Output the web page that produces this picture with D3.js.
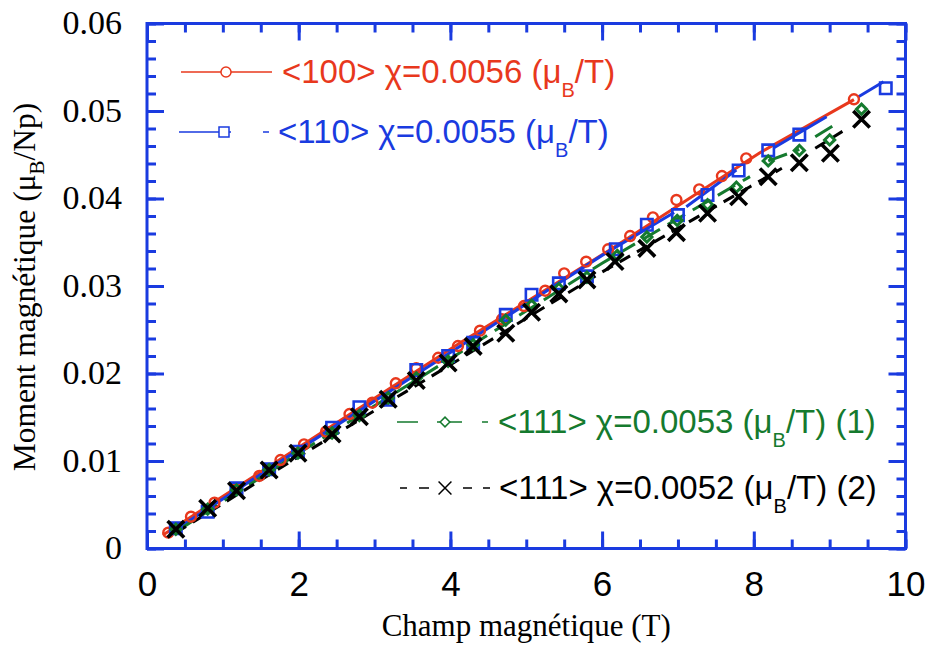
<!DOCTYPE html>
<html><head><meta charset="utf-8">
<script src="https://cdn.jsdelivr.net/npm/d3@7"></script>
<style>body{margin:0;background:#fff}svg{display:block}</style>
</head><body>
<svg id="c" width="927" height="646"></svg>
<script>
// ---------- data ----------
const xTickValues = [0, 2, 4, 6, 8, 10];
const xTickLabels = ["0", "2", "4", "6", "8", "10"];
const yTickValues = [0, 0.01, 0.02, 0.03, 0.04, 0.05, 0.06];
const yTickLabels = ["0", "0.01", "0.02", "0.03", "0.04", "0.05", "0.06"];

// <100> markers (field T, moment)
const pts100 = [[0.28,0.00181],[0.58,0.00363],[0.89,0.00523],[1.18,0.0068],[1.48,0.00829],[1.76,0.01011],
 [2.07,0.0119],[2.36,0.01335],[2.67,0.01537],[2.97,0.01666],[3.28,0.01888],[3.55,0.0206],[3.84,0.0218],
 [4.10,0.02314],[4.39,0.02489],[4.68,0.0262],[4.97,0.02771],[5.25,0.02946],[5.50,0.03145],[5.79,0.03278],
 [6.08,0.0342],[6.37,0.03571],[6.67,0.03785],[6.98,0.03983],[7.28,0.04105],[7.58,0.04257],[7.90,0.04459],
 [9.32,0.05134]];
// <110> markers
const pts110 = [[0.38,0.00231],[0.80,0.0042],[1.18,0.00688],[1.61,0.00905],[1.99,0.01106],[2.44,0.0138],
 [2.80,0.01614],[3.18,0.0170],[3.55,0.0204],[3.97,0.0220],[4.30,0.0235],[4.73,0.0267],[5.07,0.0290],
 [5.43,0.0303],[5.80,0.0311],[6.18,0.0342],[6.59,0.0370],[7.00,0.0381],[7.39,0.0404],[7.80,0.0432],
 [8.19,0.0455],[8.60,0.0473],[9.74,0.0526]];
// <111> (1) markers
const pts111a = [[0.38,0.0022],[0.80,0.0045],[1.18,0.0067],[1.61,0.0090],[1.99,0.0109],[2.44,0.0132],
 [2.80,0.0152],[3.18,0.0172],[3.55,0.0195],[3.97,0.0214],[4.30,0.0233],[4.73,0.0261],[5.07,0.0278],
 [5.43,0.0297],[5.80,0.0310],[6.20,0.0335],[6.59,0.0356],[6.99,0.0375],[7.39,0.0393],[7.77,0.0413],
 [8.19,0.0443],[8.60,0.0455],[9.00,0.0467],[9.42,0.0502]];
// <111> (2) markers
const pts111b = [[0.38,0.0022],[0.80,0.0046],[1.18,0.0066],[1.61,0.00897],[1.99,0.01088],[2.44,0.01309],
 [2.80,0.01506],[3.18,0.01705],[3.55,0.0192],[3.97,0.0212],[4.30,0.0231],[4.73,0.0246],[5.07,0.0270],
 [5.43,0.0291],[5.80,0.0307],[6.17,0.0328],[6.59,0.0343],[6.98,0.0361],[7.39,0.03831],[7.80,0.0402],
 [8.19,0.04249],[8.60,0.04409],[9.01,0.04517],[9.42,0.04905]];

// continuous curves (null = break)
const line100 = [[0.21,0.00154],[2.15,0.0124],[4.12,0.02345],[6.10,0.03411],[8.08,0.04523],[9.32,0.0513]];
const line110 = [[0.35,0.0020],[2.0,0.0113],[4.0,0.0224],[6.0,0.0335],[6.95,0.0384],null,
 [7.11,0.03906],[7.77,0.04326],null,[8.26,0.04577],[8.96,0.04935],null,[9.38,0.05163],[9.71,0.05334]];
const line111a = [[0.38,0.0019],[2.0,0.0109],[4.0,0.0217],[6.0,0.0326],[7.0,0.0377],[7.95,0.0425],null,
 [8.19,0.0443],[8.60,0.0456],null,[8.81,0.04706],[9.11,0.04866]];
const line111b = [[0.38,0.0018],[2.0,0.0105],[4.0,0.0210],[6.0,0.0316],[7.26,0.0379],[7.95,0.04135],
 [8.37,0.04345],null,[8.81,0.04574],[9.23,0.048]];

const legendMain = ["<100> χ=0.0056 (μ", "<110> χ=0.0055 (μ", "<111> χ=0.0053 (μ", "<111> χ=0.0052 (μ"];
const legendTail = ["/T)", "/T)", "/T) (1)", "/T) (2)"];

// ---------- drawing ----------
const RED = "#e8381d", BLUE = "#1a3be0", GREEN = "#157a2e", BLACK = "#000";
const svg = d3.select("#c");
const x = d3.scaleLinear().domain([0, 10]).range([147, 905.5]);
const y = d3.scaleLinear().domain([0, 0.06]).range([548.5, 23.5]);
const xMinor = d3.range(0, 10.001, 0.5);
const yMinor = d3.range(0, 0.0601, 0.002);

function styleAxis(g) {
  g.select(".domain").remove();
  g.selectAll("line").attr("stroke", BLUE).attr("stroke-width", 3);
}
// bottom
svg.append("g").attr("transform", `translate(0,${y(0)})`)
  .call(d3.axisBottom(x).tickValues(xMinor).tickSize(-9).tickFormat("")).call(styleAxis);
const bx = svg.append("g").attr("transform", `translate(0,${y(0)})`)
  .call(d3.axisBottom(x).tickValues(xTickValues).tickSize(-17).tickPadding(23)
  .tickFormat((d, i) => xTickLabels[i])).call(styleAxis);
bx.selectAll("text").attr("font-family", "'Liberation Sans', Arial, sans-serif").attr("font-size", 35).attr("fill", "#000");
// top
svg.append("g").attr("transform", `translate(0,${y(0.06)})`)
  .call(d3.axisTop(x).tickValues(xMinor).tickSize(-9).tickFormat("")).call(styleAxis);
svg.append("g").attr("transform", `translate(0,${y(0.06)})`)
  .call(d3.axisTop(x).tickValues(xTickValues).tickSize(-17).tickFormat("")).call(styleAxis);
// left
svg.append("g").attr("transform", `translate(${x(0)},0)`)
  .call(d3.axisLeft(y).tickValues(yMinor).tickSize(-9).tickFormat("")).call(styleAxis);
const ly = svg.append("g").attr("transform", `translate(${x(0)},0)`)
  .call(d3.axisLeft(y).tickValues(yTickValues).tickSize(-17).tickPadding(25)
  .tickFormat((d, i) => yTickLabels[i])).call(styleAxis);
ly.selectAll("text").attr("font-family", "'Liberation Serif', 'Times New Roman', serif").attr("font-size", 34).attr("fill", "#000").attr("dy", "0.3em");
// right
svg.append("g").attr("transform", `translate(${x(10)},0)`)
  .call(d3.axisRight(y).tickValues(yMinor).tickSize(-9).tickFormat("")).call(styleAxis);
svg.append("g").attr("transform", `translate(${x(10)},0)`)
  .call(d3.axisRight(y).tickValues(yTickValues).tickSize(-17).tickFormat("")).call(styleAxis);
// frame
svg.append("rect").attr("x", x(0)).attr("y", y(0.06)).attr("width", x(10) - x(0)).attr("height", y(0) - y(0.06))
  .attr("fill", "none").attr("stroke", BLUE).attr("stroke-width", 3);

// axis titles
svg.append("text").attr("x", (x(0) + x(10)) / 2).attr("y", 636).attr("text-anchor", "middle")
  .attr("font-family", "'Liberation Serif', 'Times New Roman', serif").attr("font-size", 31)
  .text("Champ magnétique (T)");
const yt = svg.append("text").attr("transform", "translate(35,287) rotate(-90)").attr("text-anchor", "middle")
  .attr("font-family", "'Liberation Serif', 'Times New Roman', serif").attr("font-size", 31.5);
yt.append("tspan").text("Moment magnétique (μ");
yt.append("tspan").attr("font-size", 21).attr("dy", 9).text("B");
yt.append("tspan").attr("dy", -9).text("/Np)");

// curves
const lineGen = d3.line().defined(d => d != null).x(d => x(d[0])).y(d => y(d[1]));
const plot = svg.append("g");
plot.append("path").datum(line100).attr("d", lineGen).attr("fill", "none").attr("stroke", RED).attr("stroke-width", 3);
plot.append("path").datum(line110).attr("d", lineGen).attr("fill", "none").attr("stroke", BLUE).attr("stroke-width", 3);
plot.append("path").datum(line111a).attr("d", lineGen).attr("fill", "none").attr("stroke", GREEN).attr("stroke-width", 3).attr("stroke-dasharray", "20,9");
plot.append("path").datum(line111b).attr("d", lineGen).attr("fill", "none").attr("stroke", BLACK).attr("stroke-width", 3).attr("stroke-dasharray", "12,8");

// markers
function markers(data, type, size, color, sw) {
  plot.append("g").selectAll("path").data(data).join("path")
    .attr("transform", d => `translate(${x(d[0])},${y(d[1])})`)
    .attr("d", d3.symbol().type(type).size(size))
    .attr("fill", "none").attr("stroke", color).attr("stroke-width", sw);
}
markers(pts100, d3.symbolCircle, 78, RED, 2.4);
markers(pts110, d3.symbolSquare, 130, BLUE, 2.6);
markers(pts111a, d3.symbolDiamond2, 66, GREEN, 3);
markers(pts111b, d3.symbolX, 180, BLACK, 3.6);

// legend
const legY = [72, 132, 422, 488];
const legTextX = [282, 278, 498, 499];
const legColors = [RED, BLUE, GREEN, BLACK];
const leg = svg.append("g");
leg.append("line").attr("x1", 181).attr("x2", 272).attr("y1", legY[0]).attr("y2", legY[0]).attr("stroke", RED).attr("stroke-width", 1.5);
leg.append("line").attr("x1", 179).attr("x2", 269).attr("y1", legY[1]).attr("y2", legY[1]).attr("stroke", BLUE).attr("stroke-width", 1.5).attr("stroke-dasharray", "52,32,6,100");
leg.append("line").attr("x1", 397).attr("x2", 488).attr("y1", legY[2]).attr("y2", legY[2]).attr("stroke", GREEN).attr("stroke-width", 1.5).attr("stroke-dasharray", "21,19,25,20");
leg.append("line").attr("x1", 400).attr("x2", 490).attr("y1", legY[3]).attr("y2", legY[3]).attr("stroke", BLACK).attr("stroke-width", 1.5).attr("stroke-dasharray", "7,12,10,34,9,11");
const legSym = [d3.symbolCircle, d3.symbolSquare, d3.symbolDiamond2, d3.symbolX];
const legSymX = [226, 224, 445, 445];
const legSymSize = [80, 100, 60, 110];
legSym.forEach((s, i) => {
  leg.append("path").attr("transform", `translate(${legSymX[i]},${legY[i]})`)
    .attr("d", d3.symbol().type(s).size(legSymSize[i]))
    .attr("fill", "#fff").attr("stroke", legColors[i]).attr("stroke-width", 1.5);
});
legendMain.forEach((t, i) => {
  const tx = leg.append("text").attr("x", legTextX[i]).attr("y", legY[i] + 11)
    .attr("font-family", "'Liberation Sans', Arial, sans-serif").attr("font-size", 33).attr("fill", legColors[i]);
  tx.append("tspan").text(t);
  tx.append("tspan").attr("font-size", 20).attr("dy", 14).text("B");
  tx.append("tspan").attr("dy", -14).text(legendTail[i]);
});
</script>
</body></html>
